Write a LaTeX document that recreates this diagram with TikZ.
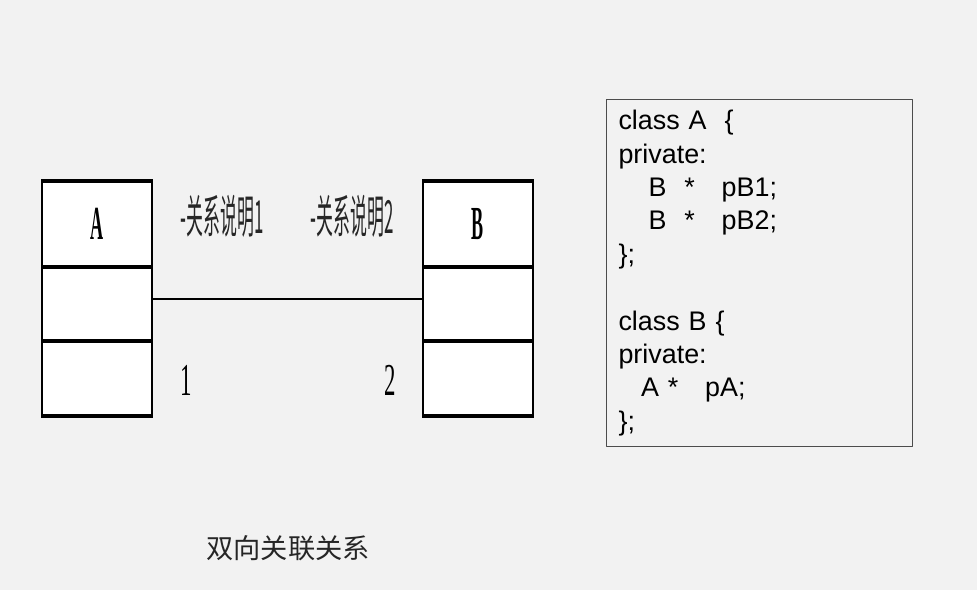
\documentclass[tikz,border=0pt]{standalone}
\usepackage{fontspec}
\usepackage{graphicx}
\setmainfont{Liberation Serif}
\newfontfamily\cjk{Noto Sans CJK SC}
\newfontfamily\codefont{Liberation Sans}
\usetikzlibrary{positioning}
\definecolor{bg}{RGB}{242,242,242}
\newcommand{\narrow}[2][0.4]{\scalebox{#1}[1]{#2}}

\begin{document}
\begin{tikzpicture}[x=0.02cm,y=-0.02cm,line join=round,line cap=round,
    comp/.style={draw,fill=white,line width=1.1pt,minimum width=2.2cm,inner sep=0pt},
    bar/.style={line width=2.4pt,line cap=butt},
    rolename/.style={font=\cjk\fontsize{26}{26}\selectfont,inner sep=0pt,text=black!85},
    mult/.style={font=\fontsize{26}{26}\selectfont,inner sep=0pt},
    classname/.style={font=\bfseries\fontsize{27}{27}\selectfont,inner sep=0pt},
    codebox/.style={draw=black!70,line width=0.6pt,minimum width=6.12cm,minimum height=6.94cm,
        text width=5.64cm,inner xsep=0.24cm,align=left,
        font=\codefont\fontsize{15.3}{19}\selectfont}]
  \useasboundingbox[fill=bg] (0,0) rectangle (977,590);
  % class A
  \node[comp,minimum height=1.72cm] (A1) at (97,225) {};
  \node[comp,minimum height=1.48cm] (A2) at (97,305) {};
  \node[comp,minimum height=1.46cm] (A3) at (97,378.5) {};
  % class B
  \node[comp,minimum height=1.72cm] (B1) at (478,225) {};
  \node[comp,minimum height=1.48cm] (B2) at (478,305) {};
  \node[comp,minimum height=1.46cm] (B3) at (478,378.5) {};
  \foreach \c in {A,B}{
    \draw[bar] (\c1.north west) -- (\c1.north east);
    \draw[bar] (\c2.north west) -- (\c2.north east);
    \draw[bar] (\c3.north west) -- (\c3.north east);
    \draw[bar] (\c3.south west) -- (\c3.south east);
  }
  \node[classname] (nameA) at (97,224) {\narrow[0.38]{A}};
  \node[classname] (nameB) at (478,224) {\narrow[0.38]{B}};
  % association
  \draw[line width=1.1pt] ([yshift=0.12cm]A2.east) -- ([yshift=0.12cm]B2.west);
  \node[rolename] (roleA) at (222,216) {\narrow[0.37]{-关系说明1}};
  \node[rolename] (roleB) at (352,216) {\narrow[0.37]{-关系说明2}};
  \node[mult] (multA) at (186,380) {\narrow[0.5]{1}};
  \node[mult] (multB) at (390,380) {\narrow[0.5]{2}};
  % code
  \node[codebox,anchor=north west] (code) at (606,99) {%
    class A\ \ \{\\
    private:\\
    \hspace*{0.6cm}B\ \ *\ \ \ pB1;\\
    \hspace*{0.6cm}B\ \ *\ \ \ pB2;\\
    \};\\
    \mbox{}\\
    class B \{\\
    private:\\
    \hspace*{0.45cm}A *\ \ \ pA;\\
    \};};
  \node[font=\cjk\fontsize{15.5}{15.5}\selectfont,text=black!85] (caption) at (288,548) {双向关联关系};
\end{tikzpicture}
\end{document}
